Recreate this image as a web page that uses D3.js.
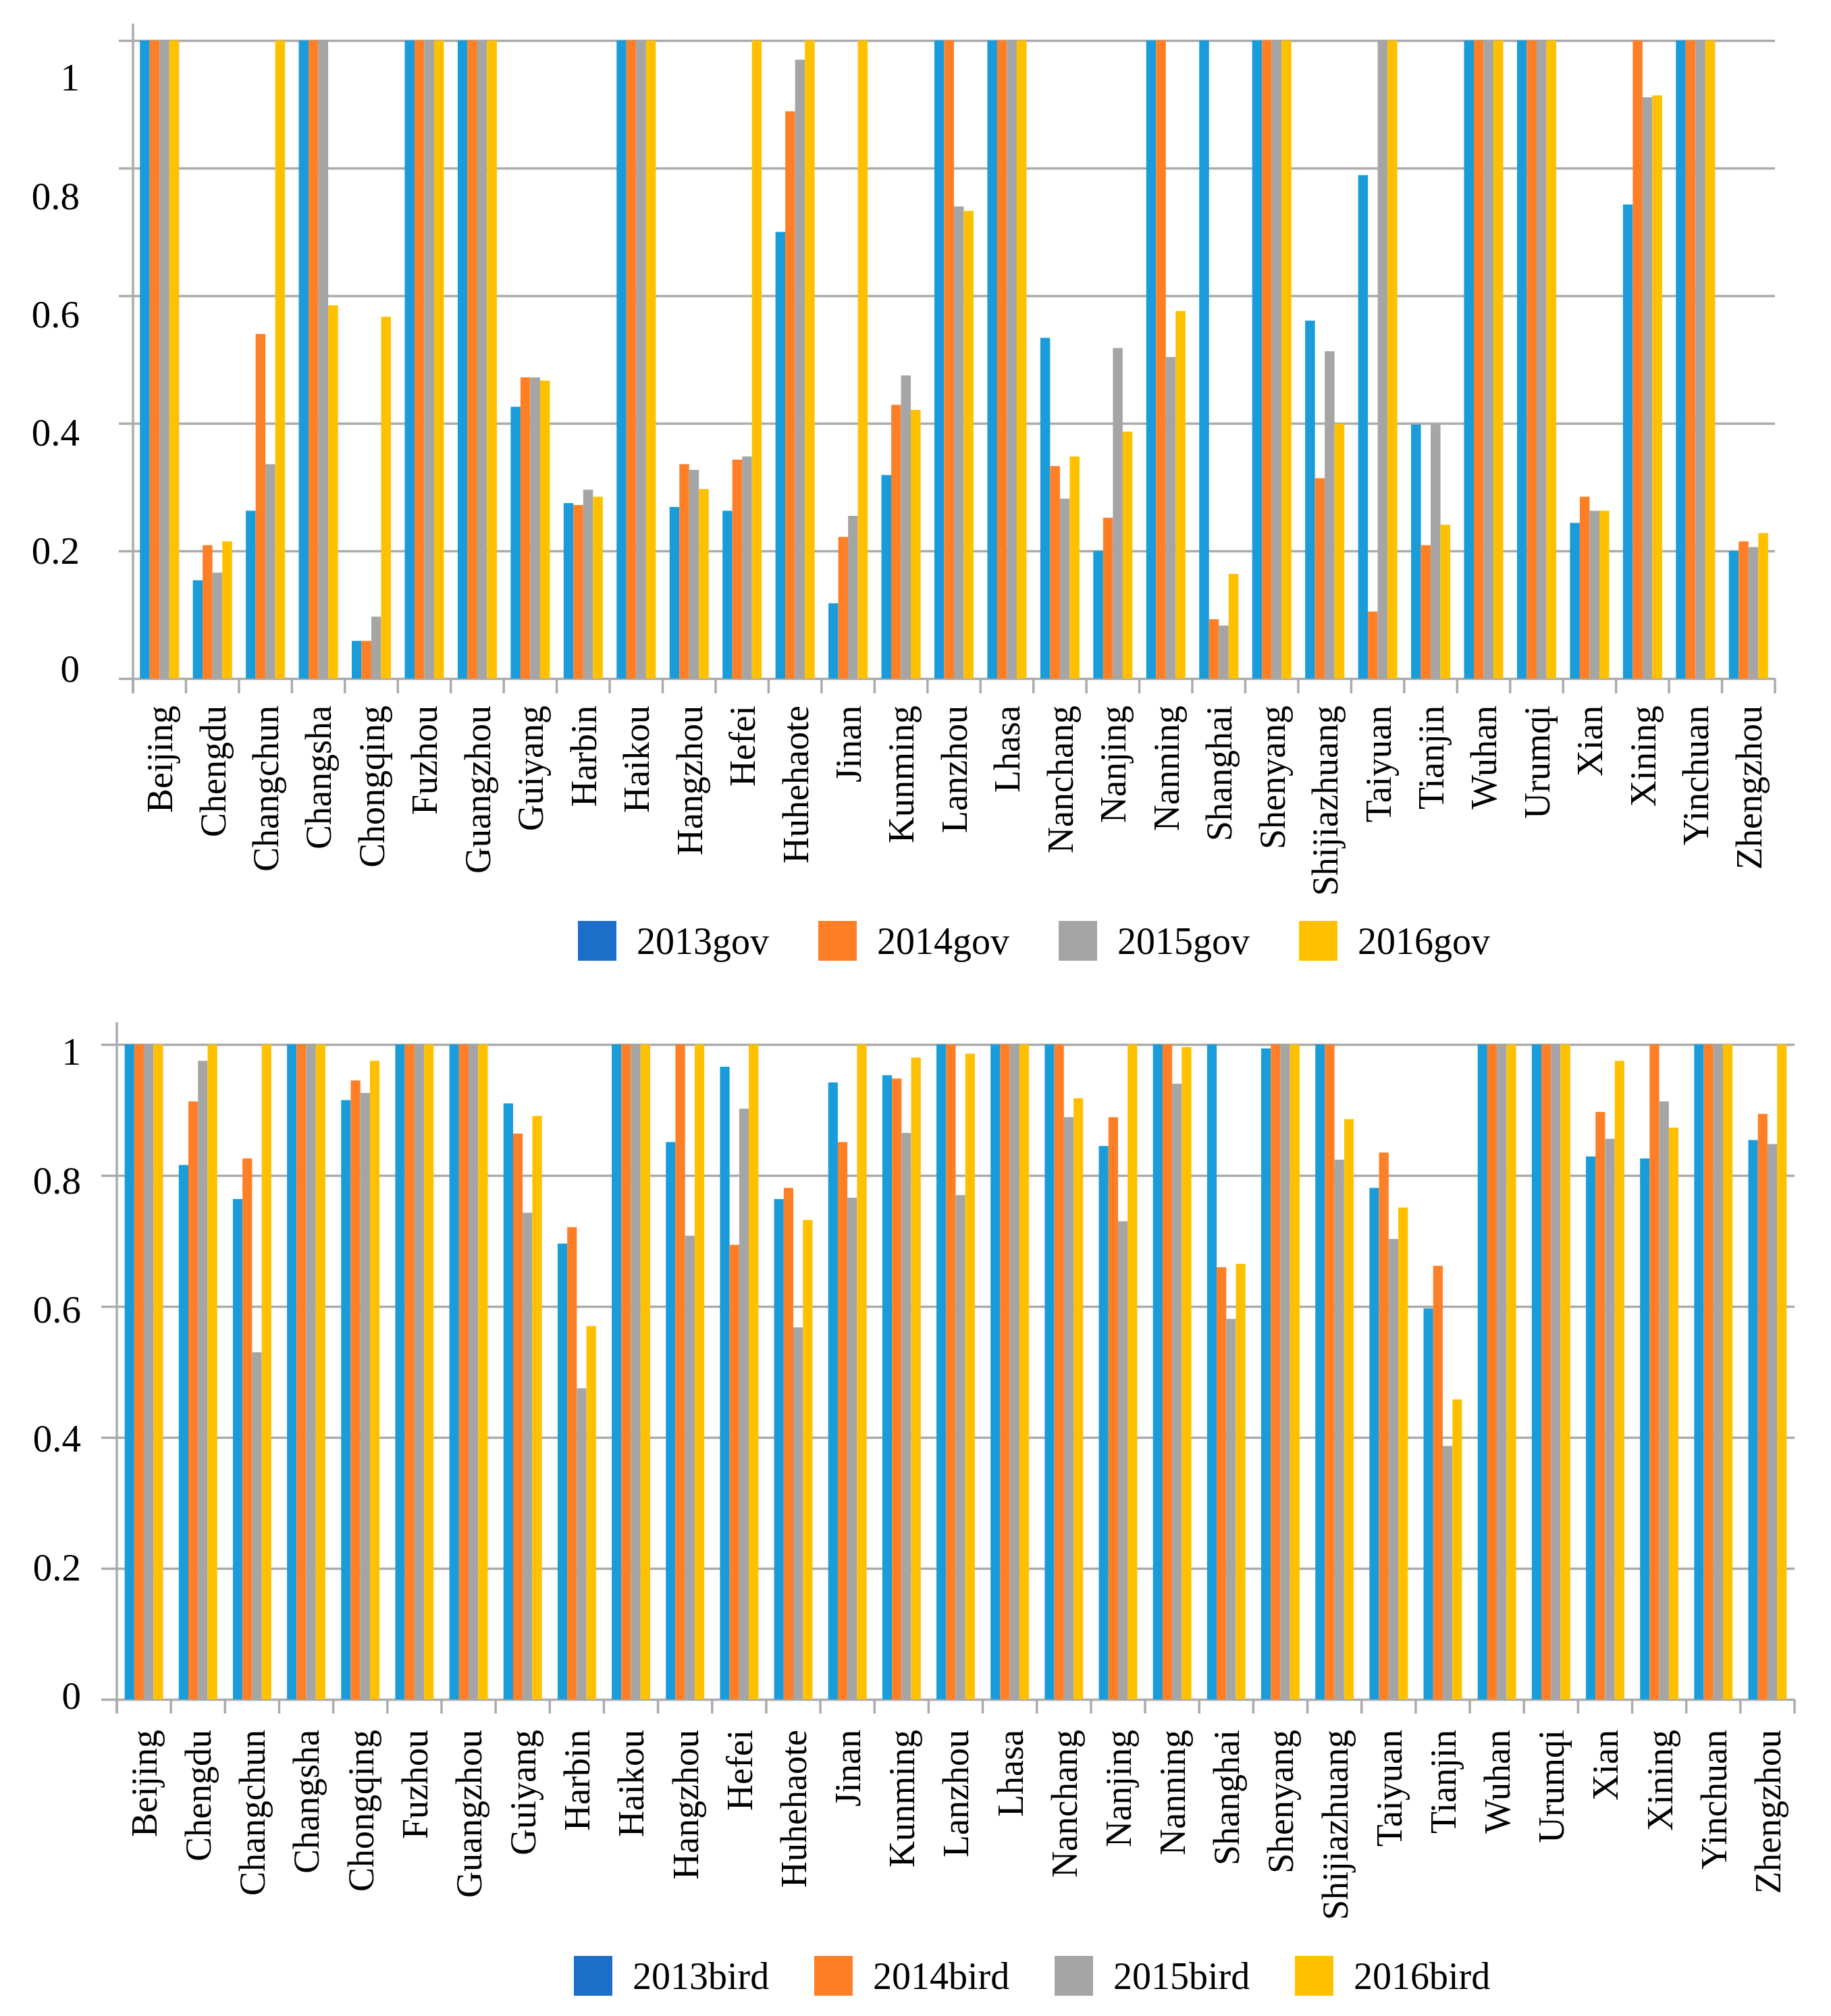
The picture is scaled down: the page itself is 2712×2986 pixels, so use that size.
<!DOCTYPE html>
<html>
<head>
<meta charset="utf-8">
<script src="https://cdn.jsdelivr.net/npm/d3@7"></script>
<style>
  body { margin: 0; background: #fff; }
  text { font-family: "Liberation Serif", "Times New Roman", serif; fill: #000; }
</style>
</head>
<body>
<div id="graf"></div>
<script>
const cities = ["Beijing", "Chengdu", "Changchun", "Changsha", "Chongqing", "Fuzhou",
  "Guangzhou", "Guiyang", "Harbin", "Haikou", "Hangzhou", "Hefei", "Huhehaote", "Jinan",
  "Kunming", "Lanzhou", "Lhasa", "Nanchang", "Nanjing", "Nanning", "Shanghai", "Shenyang",
  "Shijiazhuang", "Taiyuan", "Tianjin", "Wuhan", "Urumqi", "Xian", "Xining", "Yinchuan", "Zhengzhou"];

const govSeries = ["2013gov", "2014gov", "2015gov", "2016gov"];
const birdSeries = ["2013bird", "2014bird", "2015bird", "2016bird"];
const yTicks = [0, 0.2, 0.4, 0.6, 0.8, 1];

const gov2013 = [1, 0.154, 0.263, 1, 0.059, 1, 1, 0.426, 0.275, 1, 0.269, 0.263, 0.700, 0.118, 0.319, 1, 1, 0.534, 0.200, 1, 1, 1, 0.561, 0.789, 0.398, 1, 1, 0.244, 0.743, 1, 0.200];
const gov2014 = [1, 0.209, 0.540, 1, 0.059, 1, 1, 0.472, 0.272, 1, 0.336, 0.343, 0.889, 0.222, 0.429, 1, 1, 0.333, 0.252, 1, 0.093, 1, 0.314, 0.105, 0.209, 1, 1, 0.285, 1, 1, 0.215];
const gov2015 = [1, 0.166, 0.336, 1, 0.097, 1, 1, 0.472, 0.296, 1, 0.327, 0.348, 0.970, 0.255, 0.475, 0.740, 1, 0.282, 0.518, 0.504, 0.083, 1, 0.513, 1, 0.398, 1, 1, 0.263, 0.911, 1, 0.206];
const gov2016 = [1, 0.215, 1, 0.585, 0.567, 1, 1, 0.467, 0.285, 1, 0.297, 1, 1, 1, 0.421, 0.733, 1, 0.348, 0.387, 0.576, 0.164, 1, 0.399, 1, 0.241, 1, 1, 0.263, 0.914, 1, 0.228];

const bird2013 = [1, 0.816, 0.764, 1, 0.915, 1, 1, 0.910, 0.696, 1, 0.851, 0.966, 0.764, 0.942, 0.953, 1, 1, 1, 0.845, 1, 1, 0.994, 1, 0.781, 0.597, 1, 1, 0.829, 0.826, 1, 0.854];
const bird2014 = [1, 0.913, 0.826, 1, 0.945, 1, 1, 0.864, 0.721, 1, 1, 0.694, 0.781, 0.851, 0.948, 1, 1, 1, 0.889, 1, 0.660, 1, 1, 0.835, 0.662, 1, 1, 0.897, 1, 1, 0.894];
const bird2015 = [1, 0.975, 0.530, 1, 0.926, 1, 1, 0.743, 0.475, 1, 0.708, 0.902, 0.568, 0.766, 0.865, 0.770, 1, 0.889, 0.730, 0.940, 0.581, 1, 0.824, 0.703, 0.387, 1, 1, 0.856, 0.913, 1, 0.848];
const bird2016 = [1, 1, 1, 1, 0.975, 1, 1, 0.891, 0.570, 1, 1, 1, 0.732, 1, 0.980, 0.986, 1, 0.918, 1, 0.996, 0.665, 1, 0.886, 0.751, 0.458, 1, 1, 0.975, 0.873, 1, 1];

const barColors = ["#1A9CDA", "#FF7F27", "#A5A5A5", "#FFC000"];
const keyColors = ["#1B6FC8", "#FF7F27", "#A5A5A5", "#FFC000"];

const ancho_total = 2712;
const alto_total = 2986;
const gridColor = "#ABABAB";

const svg = d3.select("#graf")
  .append("svg")
  .attr("width", ancho_total)
  .attr("height", alto_total);

// one panel = gridlines, axes, grouped bars, legend
function panel(cfg) {
  const g = svg.append("g");

  const y = d3.scaleLinear().domain([0, 1]).range([cfg.bottom, cfg.top]);
  // the tick labels in the picture do not sit exactly on the gridlines
  const yLab = d3.scaleLinear().domain([0, 1]).range(cfg.labRange);

  const x0 = d3.scaleBand().domain(cities).range([cfg.left, cfg.right])
    .paddingInner(cfg.pad).paddingOuter(cfg.pad / 2);
  const x1 = d3.scaleBand().domain(cfg.series).range([0, x0.bandwidth()]);
  const color = d3.scaleOrdinal().domain(cfg.series).range(barColors);
  const keyColor = d3.scaleOrdinal().domain(cfg.series).range(keyColors);

  // gridlines
  const grid = g.append("g")
    .attr("transform", `translate(${cfg.right},0)`)
    .call(d3.axisLeft(y).tickValues(yTicks).tickSize(cfg.right - cfg.gridStart).tickFormat(""));
  grid.select(".domain").remove();
  grid.selectAll("line").attr("stroke", gridColor).attr("stroke-width", 3.5);

  // vertical axis line
  g.append("line")
    .attr("x1", cfg.left).attr("x2", cfg.left)
    .attr("y1", y(1) - cfg.overTop).attr("y2", y(0) + cfg.tickLen)
    .attr("stroke", gridColor).attr("stroke-width", 3.5);

  // category boundary ticks
  const step = x0.step();
  const bounds = cities.map(c => x0(c) - (step - x0.bandwidth()) / 2).concat([cfg.right]);
  g.append("g").selectAll("line").data(bounds).join("line")
    .attr("x1", d => d).attr("x2", d => d)
    .attr("y1", y(0)).attr("y2", y(0) + cfg.tickLen)
    .attr("stroke", gridColor).attr("stroke-width", 3.5);

  // y labels
  const yl = g.append("g")
    .attr("transform", `translate(${cfg.labX},0)`)
    .call(d3.axisLeft(yLab).tickValues(yTicks).tickSize(0).tickPadding(0).tickFormat(d => String(d)));
  yl.select(".domain").remove();
  yl.selectAll("text").attr("font-size", 57).attr("dy", "0.35em");

  // bars
  const rows = cities.map((c, i) => ({ city: c, vals: cfg.values.map((v, k) => ({ key: cfg.series[k], v: v[i] })) }));
  g.append("g").selectAll("g").data(rows).join("g")
    .attr("transform", d => `translate(${x0(d.city)},0)`)
    .selectAll("rect").data(d => d.vals).join("rect")
    .attr("x", d => x1(d.key))
    .attr("width", x1.bandwidth())
    .attr("y", d => y(d.v))
    .attr("height", d => y(0) - y(d.v))
    .attr("fill", d => color(d.key));

  // x labels, rotated
  const xl = g.append("g")
    .attr("transform", `translate(0,${y(0)})`)
    .call(d3.axisBottom(x0).tickSize(0).tickPadding(0));
  xl.select(".domain").remove();
  xl.selectAll("text")
    .attr("font-size", 54)
    .attr("text-anchor", "end")
    .attr("transform", "rotate(-90)")
    .attr("x", -cfg.labGap)
    .attr("y", 0)
    .attr("dy", "0.35em");

  // legend
  const lx = d3.scaleBand().domain(cfg.series).range([cfg.keyX, cfg.keyX + 4 * 356]);
  const key = g.append("g").selectAll("g").data(cfg.series).join("g")
    .attr("transform", d => `translate(${lx(d)},${cfg.keyY})`);
  key.append("rect")
    .attr("width", 57).attr("height", 59)
    .attr("fill", d => keyColor(d));
  key.append("text")
    .attr("x", 87).attr("y", 49)
    .attr("font-size", 56)
    .text(d => d);
}

panel({
  series: govSeries,
  values: [gov2013, gov2014, gov2015, gov2016],
  left: 197, right: 2629, gridStart: 176,
  top: 60, bottom: 1005, overTop: 25, tickLen: 22,
  pad: 0.26, labX: 118, labRange: [990, 114], labGap: 40,
  keyX: 856, keyY: 1364
});

panel({
  series: birdSeries,
  values: [bird2013, bird2014, bird2015, bird2016],
  left: 173, right: 2658, gridStart: 150,
  top: 1547, bottom: 2517, overTop: 33, tickLen: 21,
  pad: 0.29, labX: 120, labRange: [2511, 1557], labGap: 45,
  keyX: 850, keyY: 2897
});
</script>
</body>
</html>
